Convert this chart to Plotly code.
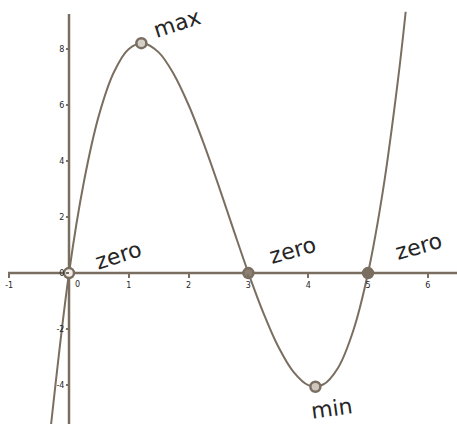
import plotly.graph_objects as go

# Curve samples (x, f(x)) of the cubic, evenly spaced
curve_x = [-0.31, 0.0, 0.25, 0.5, 0.75, 1.0, 1.25, 1.5, 1.75, 2.0, 2.25, 2.5, 2.75,
           3.0, 3.25, 3.5, 3.75, 4.0, 4.25, 4.5, 4.75, 5.0, 5.25, 5.5, 5.63]
curve_y = [-5.6, 0.0, 3.27, 5.63, 7.17, 8.0, 8.20, 7.88, 7.11, 6.0, 4.64, 3.13, 1.55,
           0.0, -1.42, -2.63, -3.52, -4.0, -3.98, -3.38, -2.08, 0.0, 2.95, 6.88, 9.33]

# Marked points: zeros, max, min
point_x = [0.0, 3.0, 5.0, 1.21, 4.12]
point_y = [0.0, 0.0, 0.0, 8.21, -4.06]
point_fill = ["#f2eee9", "#8a7f72", "#7a6e60", "#d6cfc7", "#cfc7be"]

# Handwritten labels: text, x, y, angle
label_text = ["max", "zero", "zero", "zero", "min"]
label_x = [1.80, 0.82, 3.73, 5.84, 4.40]
label_y = [8.92, 0.61, 0.82, 0.96, -4.82]
label_angle = [-18, -18, -16, -16, -8]

x_ticks = [-1, 1, 2, 3, 4, 5, 6]
y_ticks = [-4, -2, 0, 2, 4, 6, 8]

x_range = [-1.154, 6.488]
y_range = [-5.39, 9.75]

line_col = "#7a6e60"
ink = "#262626"

fig = go.Figure()
fig.add_trace(go.Scatter(x=curve_x, y=curve_y, mode="lines",
                         line=dict(color=line_col, width=2, shape="spline", smoothing=1.0),
                         hoverinfo="skip", showlegend=False))
fig.add_trace(go.Scatter(x=point_x, y=point_y, mode="markers",
                         marker=dict(size=10, color=point_fill,
                                     line=dict(color=line_col, width=2.5)),
                         showlegend=False))

# Coordinate axes through the origin
fig.add_shape(type="line", x0=-1.02, x1=x_range[1], y0=0, y1=0,
              line=dict(color=line_col, width=2.5), layer="below")
fig.add_shape(type="line", x0=0, x1=0, y0=y_range[0], y1=9.25,
              line=dict(color=line_col, width=2.5), layer="below")

for t, x, y, a in zip(label_text, label_x, label_y, label_angle):
    fig.add_annotation(x=x, y=y, text=t, showarrow=False, textangle=a,
                       font=dict(family="DejaVu Sans", size=22, color=ink))

# origin label on the x axis sits just right of the y axis
fig.add_annotation(x=0, y=0, text="0", showarrow=False, xshift=8, yshift=-11,
                   font=dict(family="DejaVu Sans", size=8, color=ink))

x0_pos = (0 - y_range[0]) / (y_range[1] - y_range[0])
y0_pos = (0 - x_range[0]) / (x_range[1] - x_range[0])

fig.update_layout(
    width=457, height=424,
    margin=dict(l=0, r=0, t=0, b=0),
    paper_bgcolor="white", plot_bgcolor="white",
    xaxis=dict(range=x_range, showgrid=False, zeroline=False, showline=False,
               anchor="free", position=x0_pos,
               tickvals=x_ticks, ticktext=[str(v) for v in x_ticks],
               ticks="outside", ticklen=4, tickwidth=1.5, tickcolor=line_col,
               tickfont=dict(family="DejaVu Sans", size=8, color=ink)),
    yaxis=dict(range=y_range, showgrid=False, zeroline=False, showline=False,
               anchor="free", position=y0_pos,
               tickvals=y_ticks, ticktext=[str(v) for v in y_ticks],
               ticks="outside", ticklen=3, tickwidth=1.5, tickcolor=line_col,
               tickfont=dict(family="DejaVu Sans", size=8, color=ink)),
)

fig.write_html("out.html")
